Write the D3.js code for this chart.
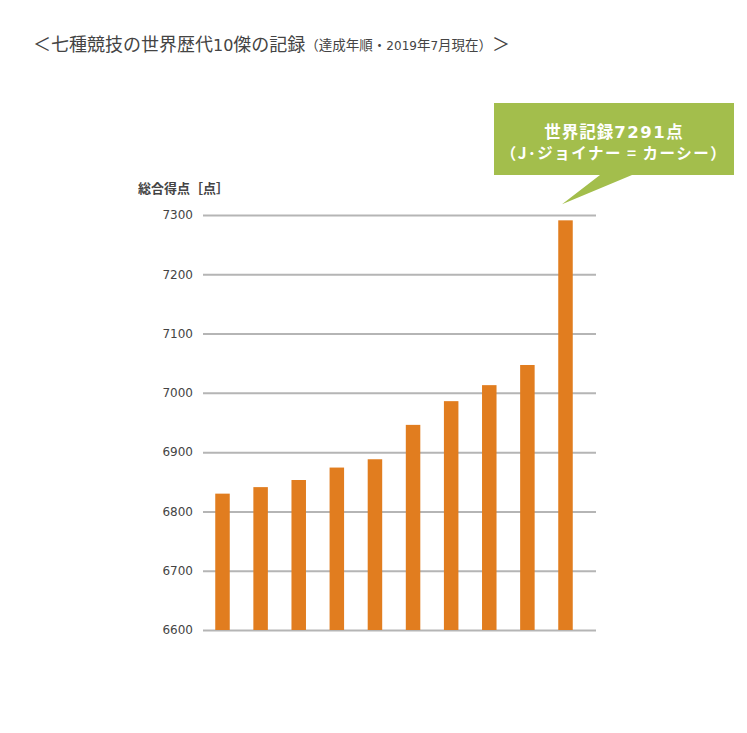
<!DOCTYPE html>
<html>
<head>
<meta charset="utf-8">
<script src="https://cdn.jsdelivr.net/npm/d3@7"></script>
<style>
  body { margin: 0; background: #fff; }
</style>
</head>
<body>
<div id="chart"></div>
<script>
// 達成年順に並べた10人の記録
var order = [1, 2, 3, 4, 5, 6, 7, 8, 9, 10];
var scores = [6830, 6841, 6853, 6874, 6888, 6946, 6986, 7013, 7047, 7291];
var yTicks = [6600, 6700, 6800, 6900, 7000, 7100, 7200, 7300];

var width = 747, height = 733;
var barWidth = 14.5;
var digitFont = "\"DejaVu Sans\", sans-serif";

var svg = d3.select("#chart").append("svg")
    .attr("width", width)
    .attr("height", height)
    .attr("font-family", "\"Noto Sans CJK JP\", \"Noto Sans\", sans-serif");

var x = d3.scalePoint()
    .domain(order)
    .range([222.5, 565.5]);

var y = d3.scaleLinear()
    .domain([6600, 7300])
    .range([630, 215]);

// title
var title = svg.append("text")
    .attr("x", 33)
    .attr("y", 51)
    .attr("fill", "#444");
title.append("tspan").attr("font-size", 18).text("＜七種競技の世界歴代");
title.append("tspan").attr("font-size", 16).attr("font-family", digitFont).text("10");
title.append("tspan").attr("font-size", 18).text("傑の記録");
title.append("tspan").attr("font-size", 13.5).attr("dy", -1).text("（達成年順・");
title.append("tspan").attr("font-size", 12).attr("font-family", digitFont).text("2019");
title.append("tspan").attr("font-size", 13.5).text("年");
title.append("tspan").attr("font-size", 12).attr("font-family", digitFont).text("7");
title.append("tspan").attr("font-size", 13.5).text("月現在）");
title.append("tspan").attr("font-size", 18).attr("dy", 1).text("＞");

// axis label
svg.append("text")
    .attr("x", 138)
    .attr("y", 193)
    .attr("font-size", 13)
    .attr("font-weight", "bold")
    .attr("fill", "#444")
    .text("総合得点［点］");

// gridlines + labels via axis
var axis = d3.axisLeft(y)
    .tickValues(yTicks)
    .tickSize(-393)
    .tickPadding(10)
    .tickFormat(d3.format("d"));

var gAxis = svg.append("g")
    .attr("transform", "translate(203,0)")
    .call(axis)
    .attr("font-family", digitFont)
    .attr("font-size", 12);
gAxis.select(".domain").remove();
gAxis.selectAll(".tick line")
    .attr("stroke", "#b5b5b5")
    .attr("stroke-width", 2);
gAxis.selectAll(".tick text")
    .attr("fill", "#444");

// bars
svg.append("g").selectAll("rect")
    .data(scores)
    .enter().append("rect")
    .attr("x", function(d, i) { return x(order[i]) - barWidth / 2; })
    .attr("y", function(d) { return y(d); })
    .attr("width", barWidth)
    .attr("height", function(d) { return y(6600) - y(d); })
    .attr("fill", "#e17d1f");

// callout for the record
var last = scores.length - 1;
var tipX = x(order[last]) - 3.5;
var tipY = y(scores[last]) - 16;
var box = { x0: 494, y0: 103, x1: 734, y1: 175 };

svg.append("path")
    .attr("d", "M" + box.x0 + "," + box.y0 +
        "H" + box.x1 + "V" + box.y1 +
        "H632L" + tipX + "," + tipY + "L600," + box.y1 +
        "H" + box.x0 + "Z")
    .attr("fill", "#a3be4c");

var line1 = svg.append("text")
    .attr("x", (box.x0 + box.x1) / 2)
    .attr("y", 138)
    .attr("text-anchor", "middle")
    .attr("font-size", 16.5)
    .attr("font-weight", "bold")
    .attr("letter-spacing", 1)
    .attr("fill", "#fff");
line1.append("tspan").text("世界記録");
line1.append("tspan").attr("font-family", digitFont).attr("letter-spacing", 1.5).text("7291");
line1.append("tspan").text("点");

svg.append("text")
    .attr("x", (box.x0 + box.x1) / 2)
    .attr("y", 159)
    .attr("text-anchor", "middle")
    .attr("font-size", 15.5)
    .attr("font-weight", "bold")
    .attr("letter-spacing", 1.5)
    .attr("fill", "#fff")
    .text("（J･ジョイナー = カーシー）");
</script>
</body>
</html>
